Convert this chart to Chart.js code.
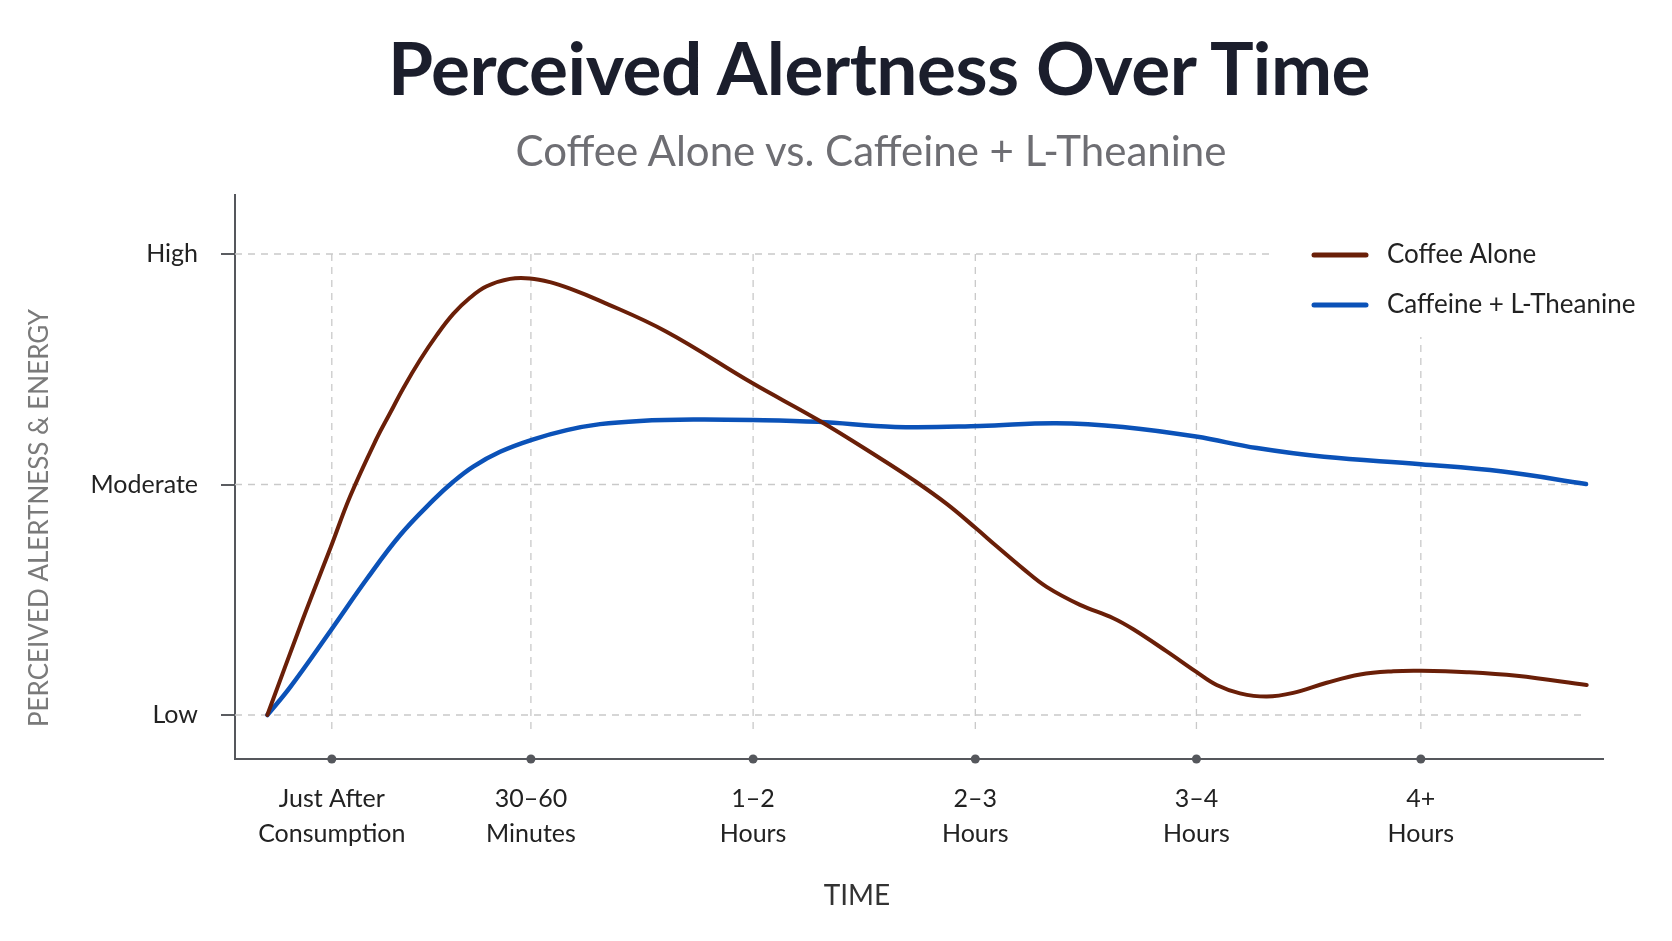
<!DOCTYPE html>
<html>
<head>
<meta charset="utf-8">
<title>Perceived Alertness Over Time</title>
<script src="https://cdn.jsdelivr.net/npm/chart.js@4.4.1/dist/chart.umd.min.js"></script>
<style>
    html, body { margin: 0; padding: 0; background: #fff; }
    body { width: 1672px; height: 941px; position: relative; overflow: hidden; font-family: Lato, 'Noto Sans', sans-serif; }
    #alertChart { position: absolute; left: 0; top: 0; }
    .chart-title { position: absolute; margin: 0; transform: translateX(-50%); white-space: nowrap; line-height: 1; }
    h1.chart-title { left: 879px; top: 31px; font-size: 73px; font-weight: 700; color: #1b1e2c; letter-spacing: -0.5px; }
    h2.chart-title { left: 871px; top: 129px; font-size: 42px; font-weight: 400; color: #6e6e73; }
</style>
</head>
<body>
<canvas id="alertChart" width="1672" height="941"></canvas>
<h1 class="chart-title">Perceived Alertness Over Time</h1>
<h2 class="chart-title">Coffee Alone vs. Caffeine + L-Theanine</h2>
<script>
// time axis: positions of the six labelled moments (axis units), and their labels
const timeTicks = [0.44, 1.345, 2.355, 3.365, 4.37, 5.39];
const timeLabels = [
    ['Just After', 'Consumption'],
    ['30–60', 'Minutes'],
    ['1–2', 'Hours'],
    ['2–3', 'Hours'],
    ['3–4', 'Hours'],
    ['4+', 'Hours']
];

// alertness axis: Low = 0, Moderate = 5, High = 10
const levelTicks = [0, 5, 10];
const levelLabels = ['Low', 'Moderate', 'High'];

// Coffee Alone
const coffeeTimes = [0.147, 0.31, 0.436, 0.523, 0.644, 0.705, 0.765, 0.841, 0.917, 0.992, 1.068, 1.144, 1.25, 1.341, 1.432, 1.523, 1.657, 1.959,
    2.351, 2.651, 2.932, 3.083, 3.235, 3.368, 3.462, 3.583, 3.689, 3.841, 3.992, 4.083, 4.235, 4.368, 4.462, 4.568, 4.69, 4.81, 4.962,
    5.114, 5.265, 5.391, 5.599, 5.826, 6.144];
const coffeeLevels = [0, 2.1, 3.65, 4.74, 6.0, 6.55, 7.09, 7.7, 8.24, 8.7, 9.05, 9.3, 9.46, 9.47, 9.39, 9.25, 8.99, 8.32,
    7.2, 6.4, 5.57, 5.1, 4.58, 4.05, 3.66, 3.17, 2.78, 2.39, 2.1, 1.86, 1.38, 0.94, 0.65, 0.47, 0.4, 0.48, 0.7,
    0.88, 0.95, 0.96, 0.93, 0.85, 0.65];

// Caffeine + L-Theanine
const theanineTimes = [0.147, 0.25, 0.436, 0.599, 0.75, 0.901, 0.992, 1.083, 1.205, 1.349, 1.508, 1.659, 1.841, 2.083, 2.351, 2.651,
    3.0, 3.386, 3.732, 4.036, 4.368, 4.645, 4.95, 5.39, 5.762, 6.141];
const theanineLevels = [0, 0.6, 1.84, 2.95, 3.9, 4.66, 5.06, 5.39, 5.71, 5.97, 6.18, 6.31, 6.38, 6.41, 6.4, 6.36,
    6.25, 6.27, 6.33, 6.25, 6.04, 5.79, 5.6, 5.44, 5.28, 5.01];

const COFFEE = '#6a1f08';
const THEANINE = '#0b52b8';
const AXIS = '#55575c';
const FONT = 'Lato, "Noto Sans", sans-serif';

const toPoints = (xs, ys) => xs.map((x, i) => ({ x: x, y: ys[i] }));

// dashed guides: horizontal at each level, vertical at each time tick
const guides = {
    id: 'guides',
    beforeDatasetsDraw(chart) {
        const { ctx, chartArea: a, scales: { x, y } } = chart;
        const endX = x.getPixelForValue(coffeeTimes[coffeeTimes.length - 1]);
        const topY = y.getPixelForValue(levelTicks[levelTicks.length - 1]);
        ctx.save();
        ctx.strokeStyle = '#c9c9c9';
        ctx.lineWidth = 1.3;
        ctx.setLineDash([7, 6]);
        levelTicks.forEach(v => {
            const py = y.getPixelForValue(v);
            ctx.beginPath();
            ctx.moveTo(a.left, py);
            ctx.lineTo(endX, py);
            ctx.stroke();
        });
        timeTicks.forEach(v => {
            const px = x.getPixelForValue(v);
            ctx.beginPath();
            ctx.moveTo(px, topY);
            ctx.lineTo(px, a.bottom - 25);
            ctx.stroke();
        });
        ctx.restore();
    }
};

// axis dots, legend, axis titles
const overlay = {
    id: 'overlay',
    afterDraw(chart) {
        const { ctx, chartArea: a, scales: { x, y } } = chart;
        ctx.save();

        ctx.fillStyle = AXIS;
        timeTicks.forEach(v => {
            ctx.beginPath();
            ctx.arc(x.getPixelForValue(v), a.bottom, 4.5, 0, Math.PI * 2);
            ctx.fill();
        });

        // legend sits top-right inside the plot, on a white patch
        const legendTop = y.getPixelForValue(levelTicks[levelTicks.length - 1]);
        ctx.fillStyle = '#fff';
        ctx.fillRect(1270, a.top + 2, 402, 140);
        chart.data.datasets.forEach((ds, i) => {
            const ly = legendTop + 1 + i * 50;
            ctx.strokeStyle = ds.borderColor;
            ctx.lineWidth = 5;
            ctx.lineCap = 'round';
            ctx.beginPath();
            ctx.moveTo(a.right - 289, ly);
            ctx.lineTo(a.right - 237, ly);
            ctx.stroke();
            ctx.fillStyle = '#222';
            ctx.font = '26px ' + FONT;
            ctx.textAlign = 'left';
            ctx.textBaseline = 'middle';
            ctx.fillText(ds.label, a.right - 216, ly);
        });

        ctx.fillStyle = '#333';
        ctx.font = '28px ' + FONT;
        ctx.textAlign = 'center';
        ctx.textBaseline = 'middle';
        ctx.fillText('TIME', 857, 896);

        ctx.translate(40, 518);
        ctx.rotate(-Math.PI / 2);
        ctx.fillStyle = '#7a7a7a';
        ctx.font = '26px ' + FONT;
        ctx.fillText('PERCEIVED ALERTNESS & ENERGY', 0, 0);
        ctx.restore();
    }
};

new Chart(document.getElementById('alertChart'), {
    type: 'line',
    data: {
        datasets: [{
            label: 'Coffee Alone',
            data: toPoints(coffeeTimes, coffeeLevels),
            borderColor: COFFEE,
            borderWidth: 4,
            borderCapStyle: 'round',
            borderJoinStyle: 'round',
            pointRadius: 0,
            tension: 0.4,
            fill: false
        }, {
            label: 'Caffeine + L-Theanine',
            data: toPoints(theanineTimes, theanineLevels),
            borderColor: THEANINE,
            borderWidth: 4.5,
            borderCapStyle: 'round',
            borderJoinStyle: 'round',
            pointRadius: 0,
            tension: 0.4,
            fill: false
        }]
    },
    options: {
        responsive: false,
        animation: false,
        layout: { padding: { top: 195, right: 69, left: 0, bottom: 0 } },
        plugins: {
            legend: { display: false },
            tooltip: { enabled: false },
            title: { display: false }
        },
        scales: {
            x: {
                type: 'linear',
                min: 0,
                max: 6.218,
                afterBuildTicks: s => { s.ticks = timeTicks.map(v => ({ value: v })); },
                afterFit: s => { s.height = 182; },
                grid: { display: false, drawTicks: false },
                border: { display: true, color: AXIS, width: 2 },
                ticks: {
                    callback: (v, i) => timeLabels[i],
                    color: '#222',
                    font: { family: FONT, size: 25, lineHeight: 1.4 },
                    padding: 22,
                    maxRotation: 0,
                    autoSkip: false
                }
            },
            y: {
                type: 'linear',
                min: -0.954,
                max: 11.28,
                afterBuildTicks: s => { s.ticks = levelTicks.map(v => ({ value: v })); },
                afterFit: s => { s.width = 235; },
                grid: { drawOnChartArea: false, drawTicks: true, tickLength: 14, color: '#5a5c61', lineWidth: 2 },
                border: { display: true, color: AXIS, width: 2 },
                ticks: {
                    callback: (v, i) => levelLabels[i],
                    color: '#222',
                    font: { family: FONT, size: 25 },
                    padding: 23
                }
            }
        }
    },
    plugins: [guides, overlay]
});
</script>
</body>
</html>
